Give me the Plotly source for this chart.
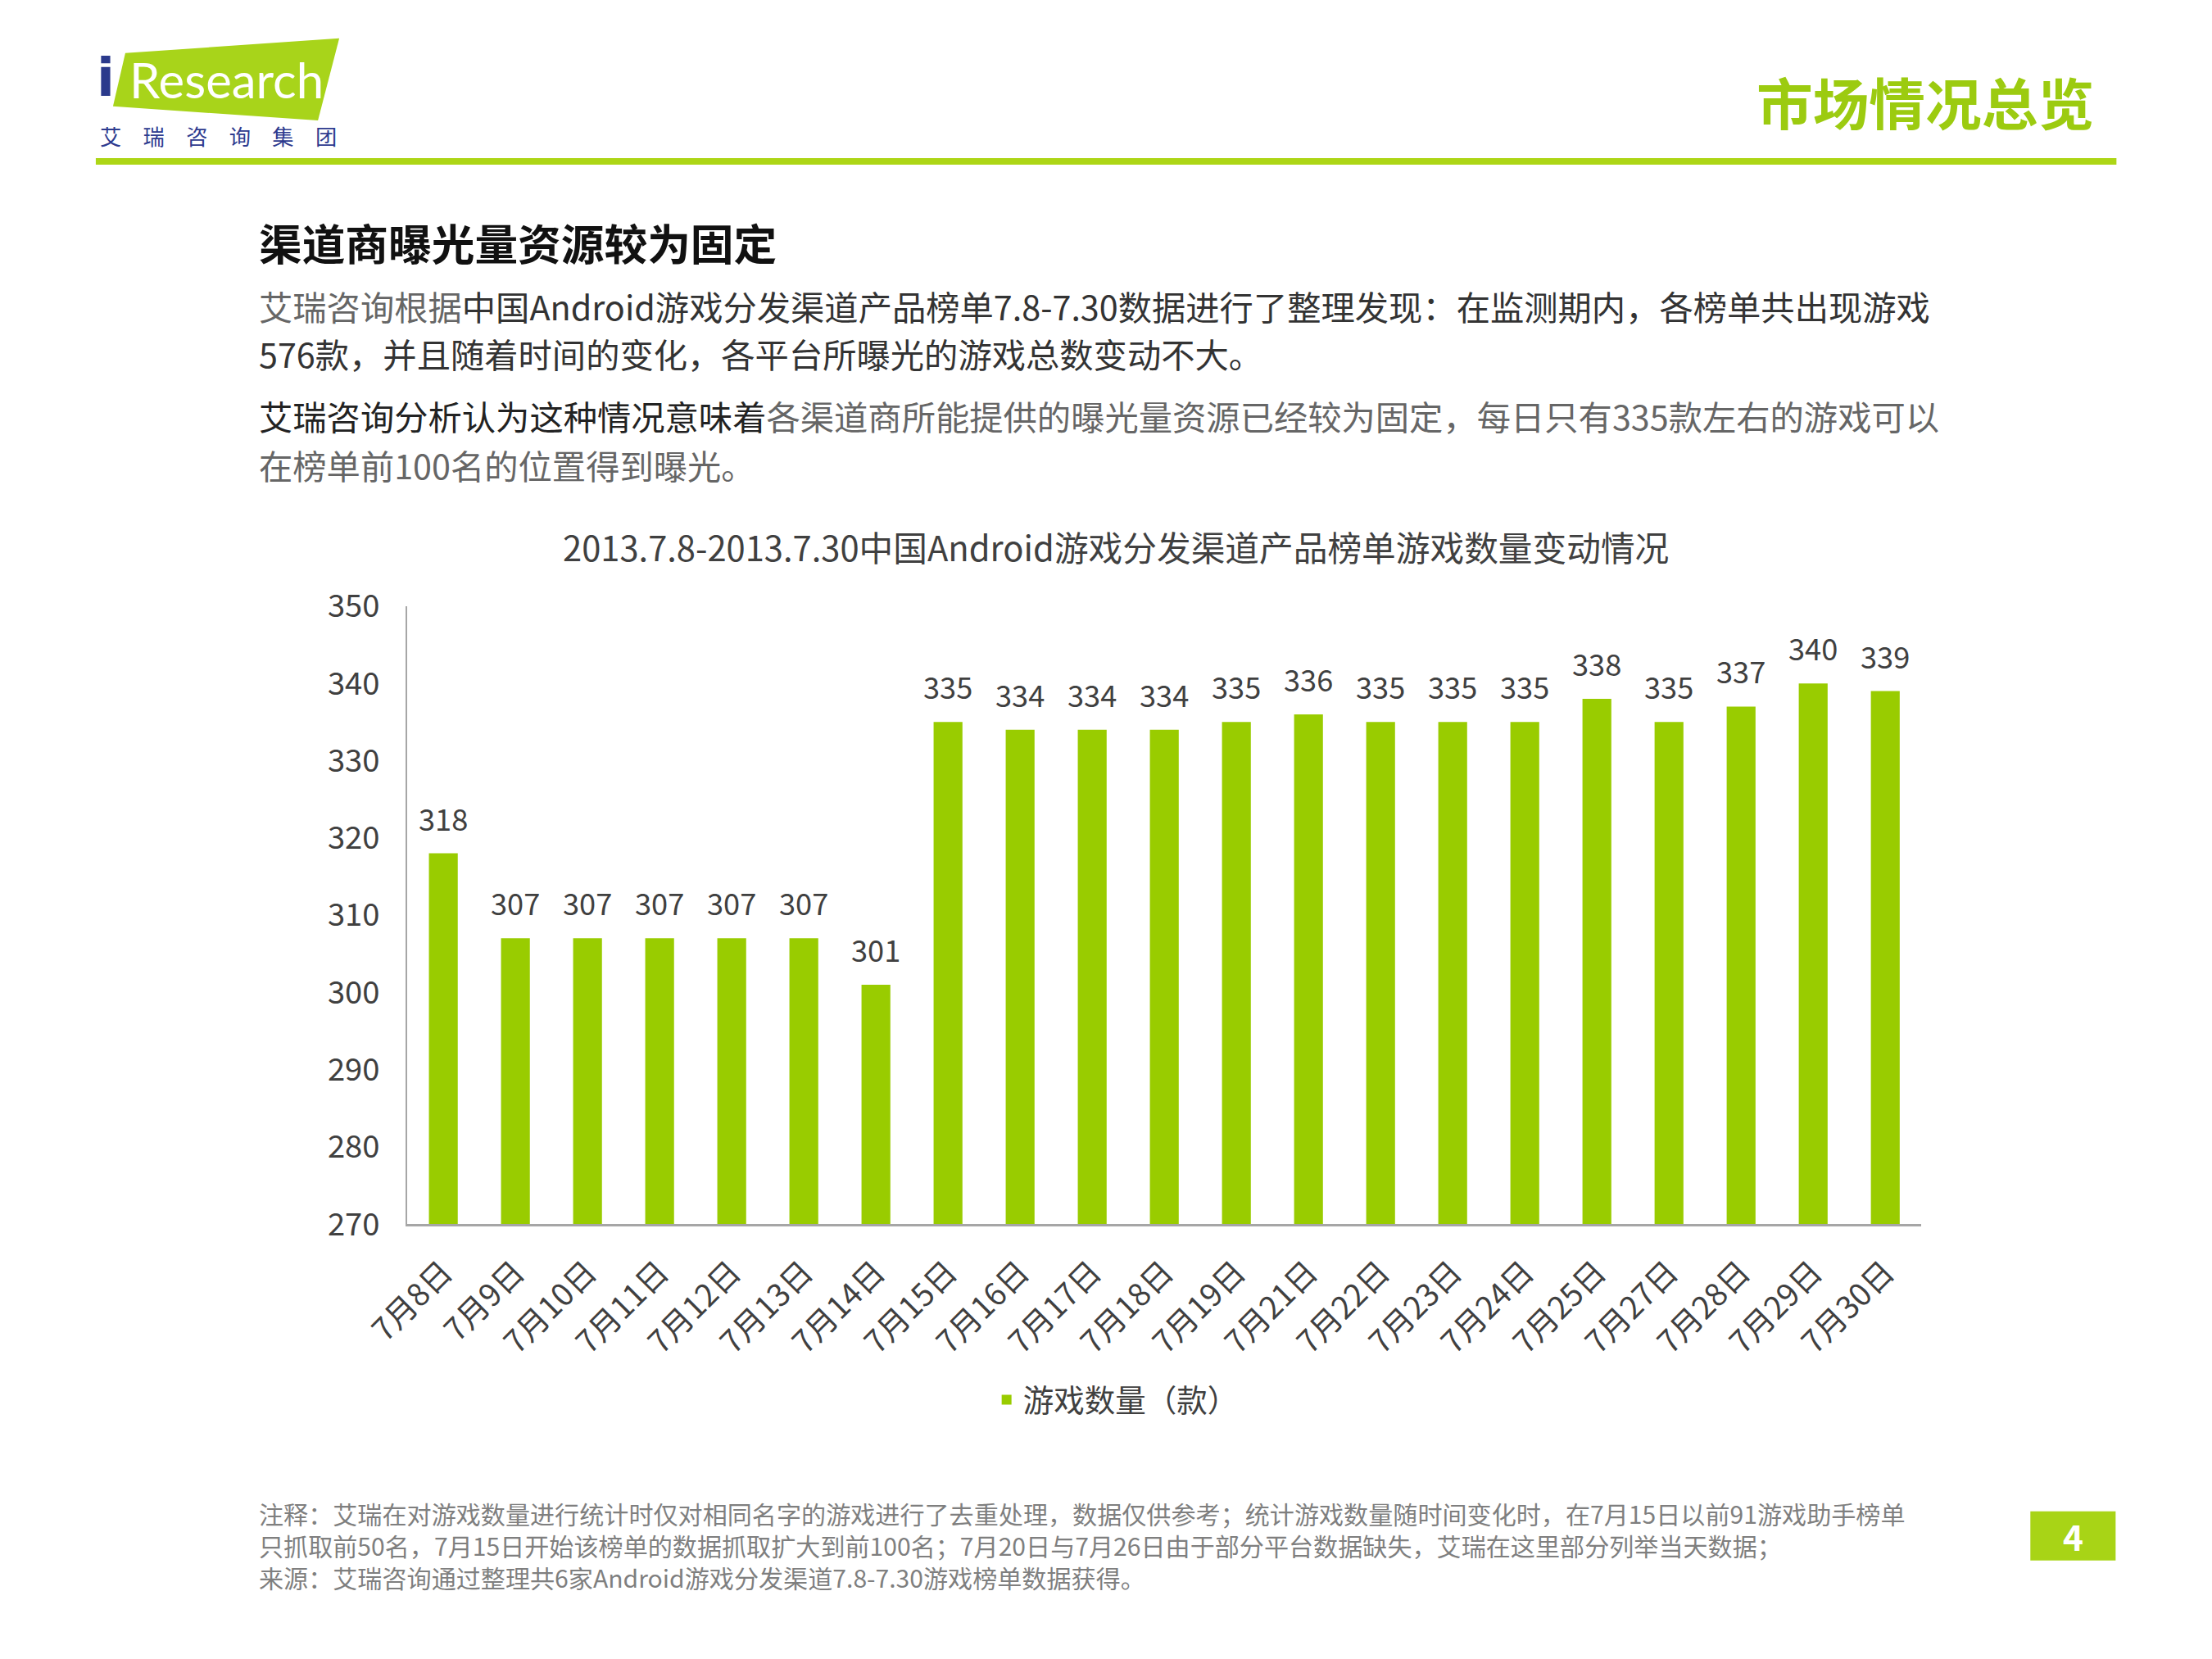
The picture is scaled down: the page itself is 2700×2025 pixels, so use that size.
import plotly.graph_objects as go

# chart data
days = ["7月8日", "7月9日", "7月10日", "7月11日", "7月12日", "7月13日", "7月14日",
        "7月15日", "7月16日", "7月17日", "7月18日", "7月19日", "7月21日", "7月22日",
        "7月23日", "7月24日", "7月25日", "7月27日", "7月28日", "7月29日", "7月30日"]
game_counts = [318, 307, 307, 307, 307, 307, 301,
               335, 334, 334, 334, 335, 336, 335,
               335, 335, 338, 335, 337, 340, 339]
y_ticks = [270, 280, 290, 300, 310, 320, 330, 340, 350]

W, H = 2700, 2025
FONT = "Noto Sans CJK SC"
BAR_GREEN = "#99CC00"
HEAD_GREEN = "#A8D41A"
DARK = "#404040"

# the photographed page comes out slightly shrunk and offset, so positions
# are given in picture pixels and mapped back to the page here
SX, OX = 0.9724, 66.1
SY, OY = 0.9633, 40.3
SF = 0.968


def px(x):
    return ((x - OX) / SX) / W


def py(y):
    return 1 - ((y - OY) / SY) / H


def fs(size):
    return round(size / SF, 1)


fig = go.Figure()
fig.add_trace(go.Bar(
    x=days, y=game_counts,
    name="游戏数量（款）",
    marker=dict(color=BAR_GREEN, line=dict(width=0)),
    hovertemplate="%{x}: %{y}<extra></extra>",
))

# value labels above bars
annotations = []
for d, v in zip(days, game_counts):
    annotations.append(dict(
        x=d, y=v, xref="x", yref="y", text=str(v), showarrow=False,
        yanchor="bottom", yshift=16, font=dict(family=FONT, size=fs(35), color=DARK)))


def note(x, y, text, size, color=DARK, xanchor="left", bold=False, family=FONT):
    if bold:
        text = f"<b>{text}</b>"
    annotations.append(dict(
        x=px(x), y=py(y), xref="paper", yref="paper", text=text, showarrow=False,
        xanchor=xanchor, yanchor="middle", align="left",
        font=dict(family=family, size=fs(size), color=color)))


# header
note(2558, 124, "市场情况总览", 66.5, color="#9CCB10", xanchor="right", bold=True)
note(157, 98, "Research", 58, color="white", family="Lato")
note(130, 96, "i", 62, color="#2B3A8C", xanchor="center", bold=True, family="DejaVu Sans")
note(121, 167, "艾　瑞　咨　询　集　团", 25.5, color="#2E3B8F")

# heading and paragraphs
note(315, 296, "渠道商曝光量资源较为固定", 51, color="#111111", bold=True)
LIGHT = "#666666"
note(315, 374, f"<span style='color:{LIGHT}'>艾瑞咨询根据</span>中国Android游戏分发渠道产品榜单7.8-7.30数据进行了整理发现：在监测期内，各榜单共出现游戏", 40, color="#333333")
note(315, 432, "576款，并且随着时间的变化，各平台所曝光的游戏总数变动不大。", 40, color="#333333")
note(315, 508, f"艾瑞咨询分析认为这种情况意味着<span style='color:{LIGHT}'>各渠道商所能提供的曝光量资源已经较为固定，每日只有335款左右的游戏可以</span>", 40, color="#222222")
note(315, 567, "在榜单前100名的位置得到曝光。", 40, color=LIGHT)

# chart title
note(1362, 667, "2013.7.8-2013.7.30中国Android游戏分发渠道产品榜单游戏数量变动情况", 40.4, color=DARK, xanchor="center")

# footnotes
FOOT = "#7F7F7F"
foot_lines = [
    "注释：艾瑞在对游戏数量进行统计时仅对相同名字的游戏进行了去重处理，数据仅供参考；统计游戏数量随时间变化时，在7月15日以前91游戏助手榜单",
    "只抓取前50名，7月15日开始该榜单的数据抓取扩大到前100名；7月20日与7月26日由于部分平台数据缺失，艾瑞在这里部分列举当天数据；",
    "来源：艾瑞咨询通过整理共6家Android游戏分发渠道7.8-7.30游戏榜单数据获得。",
]
note(315, 1884, "<br>".join(foot_lines), 29.1, color=FOOT)

# page number
note(2530, 1873, "4", 41, color="white", xanchor="center", bold=True)

shapes = [
    # logo block
    dict(type="path", xref="paper", yref="paper",
         path=f"M {px(154)},{py(66)} L {px(415)},{py(48)} L {px(389)},{py(148)} L {px(139)},{py(131)} Z",
         fillcolor=HEAD_GREEN, line=dict(width=0), layer="below"),
    # header rule
    dict(type="rect", xref="paper", yref="paper",
         x0=px(118), x1=px(2583), y0=py(202), y1=py(194),
         fillcolor="#ADD616", line=dict(width=0)),
    # page number box
    dict(type="rect", xref="paper", yref="paper",
         x0=px(2478), x1=px(2582), y0=py(1903), y1=py(1843),
         fillcolor="#A8D416", line=dict(width=0), layer="below"),
]

fig.update_layout(
    autosize=True,
    margin=dict(l=0, r=0, t=0, b=0),
    paper_bgcolor="white", plot_bgcolor="white",
    font=dict(family=FONT, color=DARK),
    bargap=0.6,
    showlegend=True,
    legend=dict(
        orientation="h", x=px(1363), xanchor="center", y=py(1707), yanchor="middle",
        font=dict(family=FONT, size=fs(36.3), color=DARK), itemwidth=30,
    ),
    annotations=annotations,
    shapes=shapes,
    xaxis=dict(
        domain=[px(498), px(2345)], type="category",
        tickangle=-45, tickfont=dict(family=FONT, size=fs(37), color=DARK),
        showline=True, linecolor="#A6A6A6", linewidth=3,
        showgrid=False, ticks="", ticklabelstandoff=18,
        range=[-0.5, len(days) - 0.5],
    ),
    yaxis=dict(
        domain=[py(1493), py(740)], range=[270, 350],
        tickvals=y_ticks, tickfont=dict(family=FONT, size=fs(37), color=DARK),
        showline=True, linecolor="#A6A6A6", linewidth=2,
        showgrid=False, zeroline=False, ticks="", ticklabelstandoff=24,
    ),
)

fig.write_html("out.html")
